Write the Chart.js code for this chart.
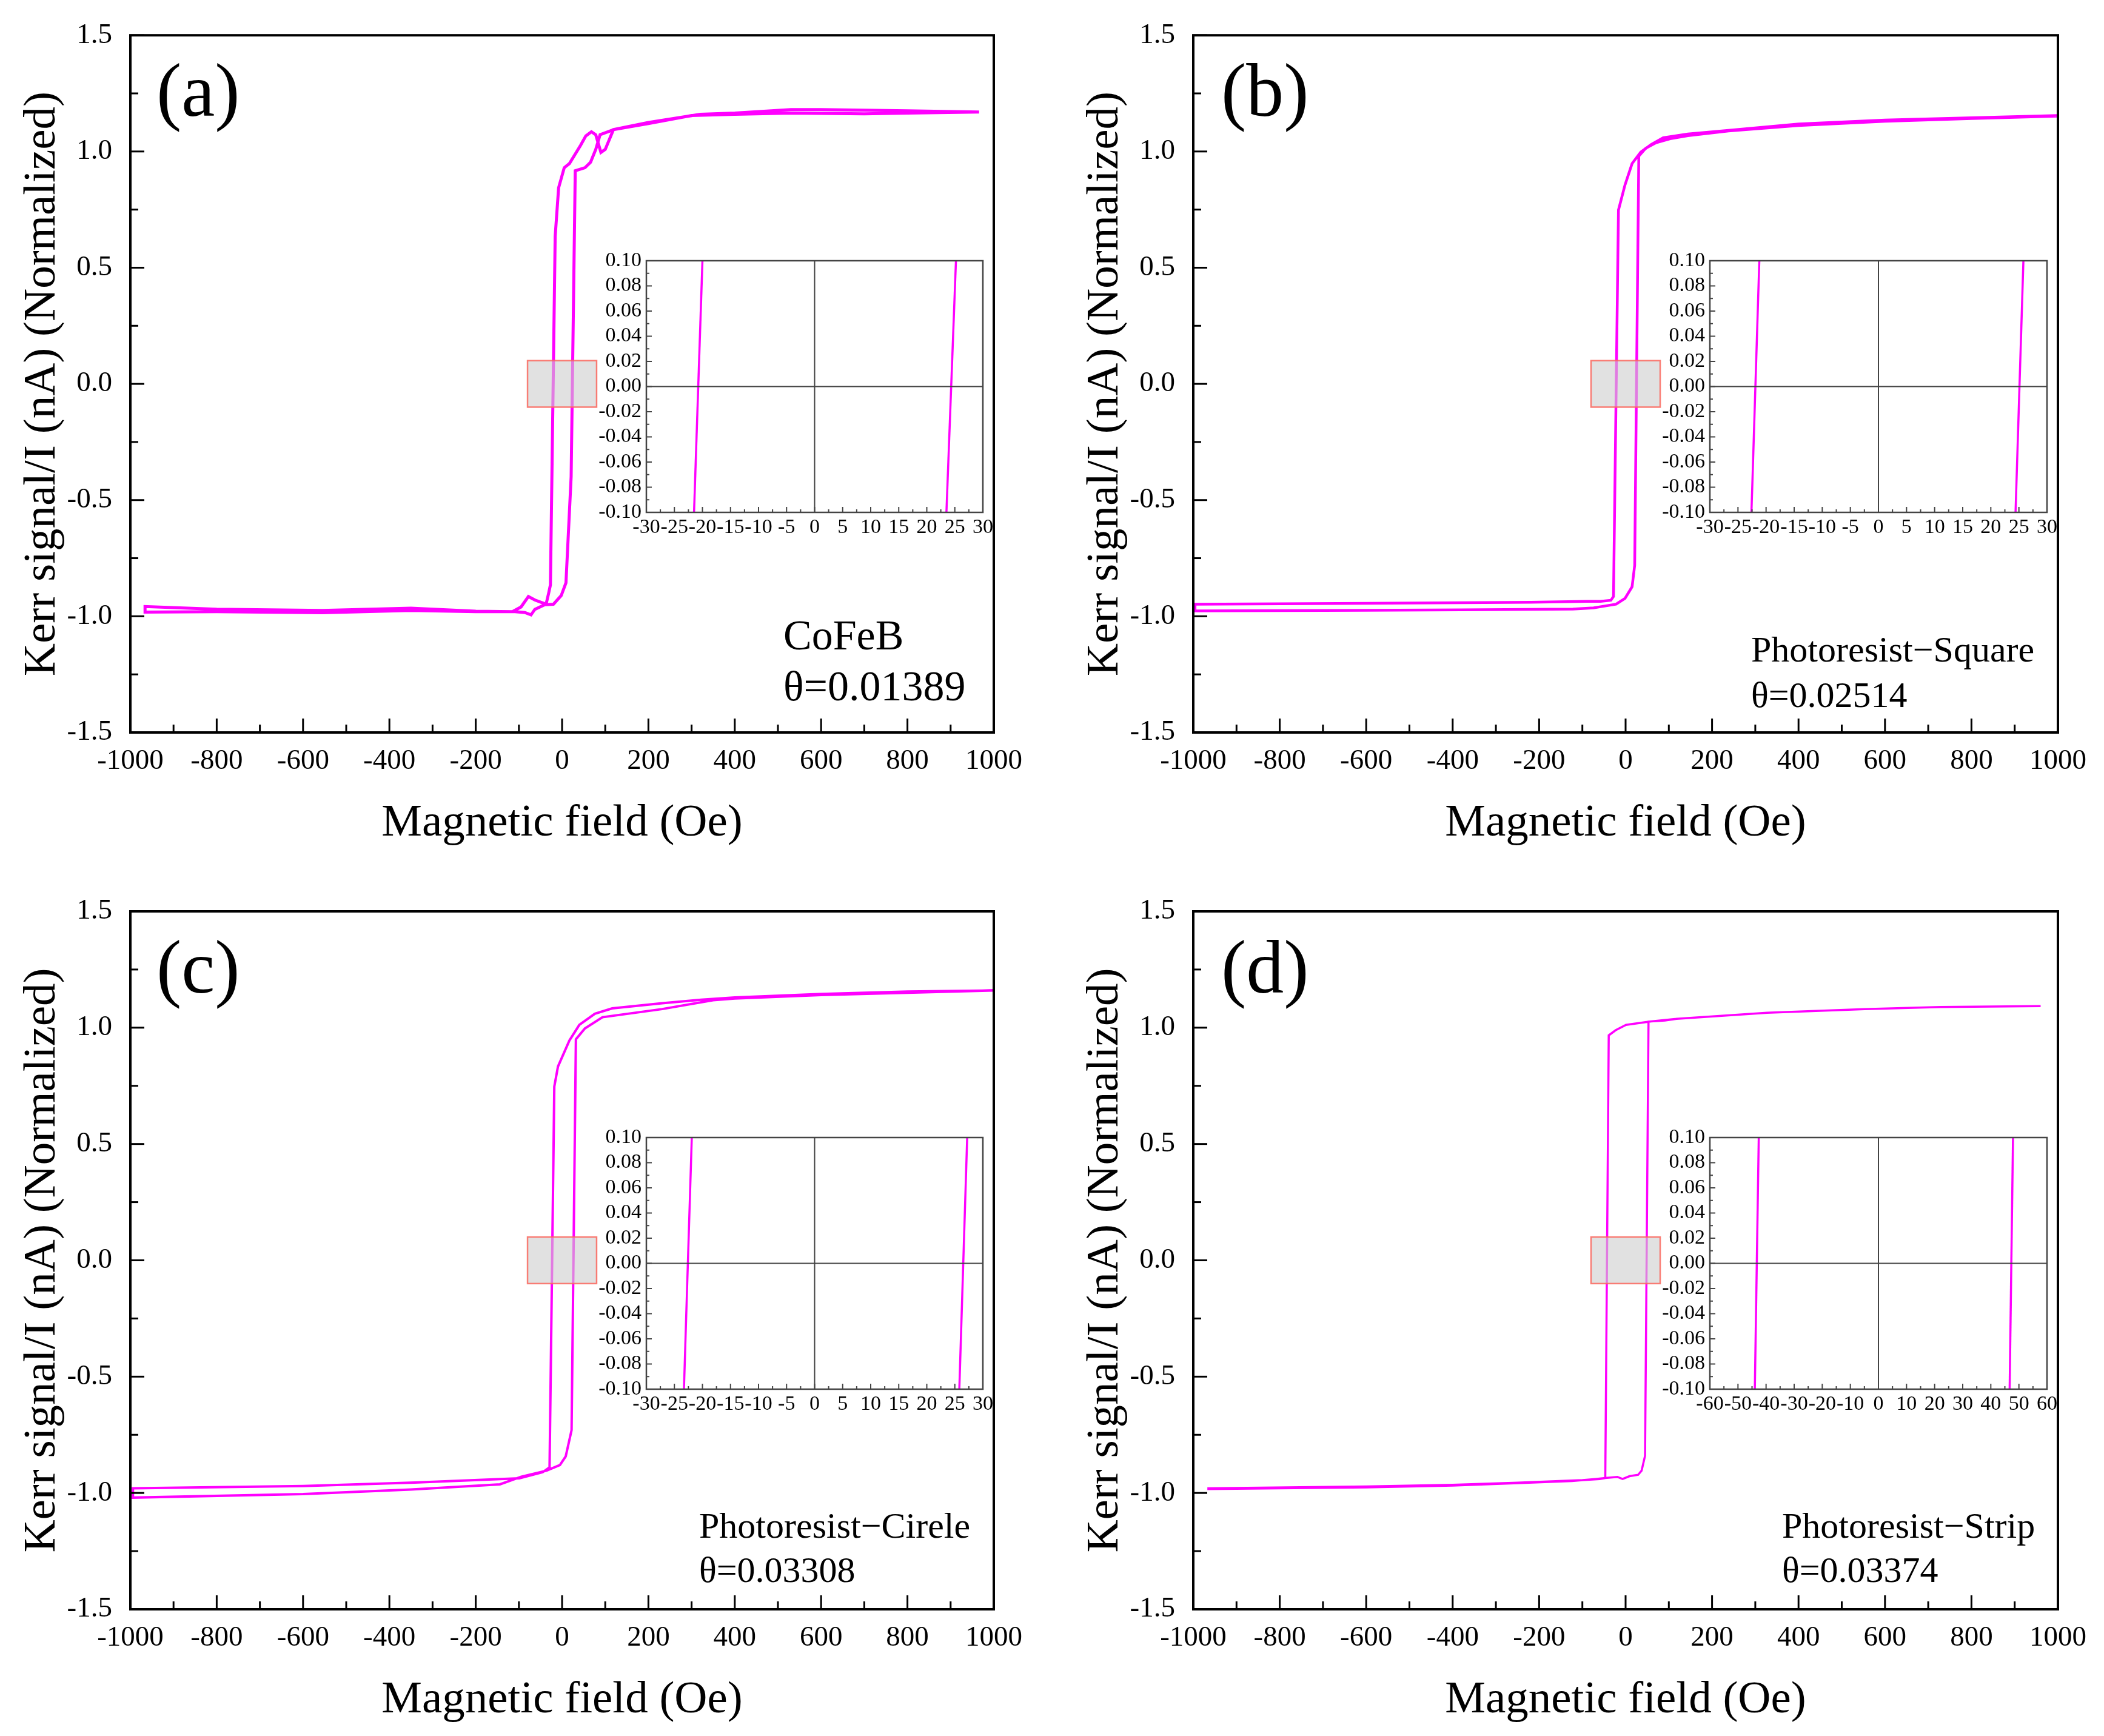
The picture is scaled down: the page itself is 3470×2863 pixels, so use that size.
<!DOCTYPE html>
<html>
<head>
<meta charset="utf-8">
<script src="https://cdn.jsdelivr.net/npm/chart.js@4.4.1/dist/chart.umd.min.js"></script>
<style>
  html, body { margin: 0; padding: 0; background: #fff; }
  #page { position: relative; width: 3470px; height: 2863px; overflow: hidden; font-family: "Liberation Serif", "Times New Roman", serif; }
  canvas { position: absolute; }
  .lbl { position: absolute; white-space: nowrap; line-height: 1; color: #000; }
</style>
</head>
<body>
<div id="page"></div>
<script>
// tick labels
const xTicksMain = [-1000, -800, -600, -400, -200, 0, 200, 400, 600, 800, 1000];
const yTicksMain = [-1.5, -1.0, -0.5, 0.0, 0.5, 1.0, 1.5];
const yTicksInset = [-0.10, -0.08, -0.06, -0.04, -0.02, 0.00, 0.02, 0.04, 0.06, 0.08, 0.10];
const xTicksInset30 = [-30, -25, -20, -15, -10, -5, 0, 5, 10, 15, 20, 25, 30];
const xTicksInset60 = [-60, -50, -40, -30, -20, -10, 0, 10, 20, 30, 40, 50, 60];

// (a) CoFeB loop: descending branch, then ascending branch
const fieldA = [966, 800, 600, 530, 400, 320, 200, 119, 100, 90, 78, 68, 55, 43, 17, 5, -8, -16, -27, -31, -37, -63, -78, -95, -115, -200, -350, -555, -800, -966,
  -966, -800, -555, -350, -200, -109, -86, -72, -63, -40, -20, -2, 9, 21, 30.5, 53, 66, 78, 88, 119, 200, 300, 400, 530, 700, 800, 966];
const kerrA = [1.170, 1.175, 1.180, 1.180, 1.165, 1.160, 1.125, 1.094, 1.009, 0.996, 1.072, 1.085, 1.067, 1.027, 0.948, 0.930, 0.844, 0.634, -0.865, -0.900, -0.948, -0.930, -0.915, -0.960, -0.980, -0.978, -0.965, -0.975, -0.970, -0.958,
  -0.982, -0.980, -0.985, -0.975, -0.980, -0.980, -0.984, -0.994, -0.970, -0.950, -0.948, -0.911, -0.856, -0.399, 0.917, 0.930, 0.954, 1.009, 1.072, 1.094, 1.120, 1.155, 1.160, 1.165, 1.162, 1.165, 1.170];

// (b) Photoresist-Square
const fieldB = [1000, 800, 600, 400, 238, 144, 87, 59, 35, 15, -1.4, -16.5, -28, -34, -58, -90, -219, -600, -996,
  -996, -600, -380, -122, -74, -58, -22, -1.4, 15, 21, 30.5, 46.5, 70.7, 103, 144, 238, 400, 600, 800, 1000];
const kerrB = [1.155, 1.145, 1.135, 1.118, 1.091, 1.075, 1.059, 1.030, 0.997, 0.948, 0.856, 0.748, -0.915, -0.931, -0.936, -0.936, -0.940, -0.944, -0.948,
  -0.977, -0.974, -0.972, -0.969, -0.964, -0.959, -0.948, -0.923, -0.873, -0.781, 0.980, 1.014, 1.038, 1.055, 1.068, 1.088, 1.112, 1.130, 1.142, 1.152];

// (c) Photoresist-Cirele
const fieldC = [1000, 800, 600, 400, 322, 232, 116, 76, 40, 17, -9.5, -18, -29, -45, -99, -341, -600, -994,
  -994, -600, -350, -144, -94.5, -36, -5, 8.4, 22, 32, 53, 93.5, 232, 350, 400, 600, 800, 1000];
const kerrC = [1.160, 1.155, 1.145, 1.130, 1.120, 1.105, 1.083, 1.060, 1.012, 0.945, 0.833, 0.747, -0.890, -0.911, -0.937, -0.955, -0.970, -0.980,
  -1.020, -1.005, -0.985, -0.963, -0.930, -0.904, -0.880, -0.843, -0.730, 0.950, 0.997, 1.045, 1.080, 1.118, 1.125, 1.140, 1.150, 1.160];

// (d) Photoresist-Strip
const fieldD = [960, 729, 553, 327, 118, 56, 1, -23, -39, -47, -60, -100, -250, -400, -600, -965,
  -965, -600, -400, -250, -124, -70, -47, -19, -7, 9, 29, 37, 45, 53, 91, 118, 327, 553, 729, 960];
const kerrD = [1.093, 1.089, 1.080, 1.064, 1.038, 1.026, 1.012, 0.989, 0.967, -0.936, -0.940, -0.945, -0.956, -0.965, -0.972, -0.980,
  -0.983, -0.976, -0.968, -0.958, -0.949, -0.940, -0.936, -0.931, -0.940, -0.928, -0.922, -0.904, -0.840, 1.026, 1.031, 1.038, 1.064, 1.080, 1.089, 1.093];

// insets: field where each switching branch crosses -0.1 and +0.1
const insetKerr = [-0.10, 0.10];
const insetLeftA = [-21.5, -20.0], insetRightA = [23.5, 25.2];
const insetLeftB = [-22.6, -21.2], insetRightB = [24.4, 25.8];
const insetLeftC = [-23.3, -21.9], insetRightC = [25.8, 27.2];
const insetLeftD = [-44.0, -42.6], insetRightD = [46.7, 47.9];

// zoomed region marked on each main plot (field min/max, kerr min/max)
const zoomBox = [-80, 80, -0.1, 0.1];

const SERIF = '"Liberation Serif", "Times New Roman", serif';
const MAGENTA = '#ff00ff';
const page = document.getElementById('page');

Chart.defaults.font.family = SERIF;
Chart.defaults.color = '#000';

const axisFrame = {
  id: 'axisFrame',
  afterDatasetsDraw(chart, args, o) {
    const { ctx, chartArea: a } = chart;
    const x = chart.scales.x, y = chart.scales.y;
    const seg = (x0, y0, x1, y1) => { ctx.beginPath(); ctx.moveTo(x0, y0); ctx.lineTo(x1, y1); ctx.stroke(); };
    ctx.save();
    if (o.box) {
      const bx0 = x.getPixelForValue(o.box[0]), bx1 = x.getPixelForValue(o.box[1]);
      const by0 = y.getPixelForValue(o.box[2]), by1 = y.getPixelForValue(o.box[3]);
      ctx.fillStyle = 'rgba(205,205,205,0.6)';
      ctx.fillRect(bx0, by1, bx1 - bx0, by0 - by1);
      ctx.strokeStyle = 'rgba(250,105,95,0.85)';
      ctx.lineWidth = 2.5;
      ctx.strokeRect(bx0, by1, bx1 - bx0, by0 - by1);
    }
    if (o.cross) {
      ctx.strokeStyle = o.color;
      ctx.lineWidth = o.crossWidth;
      const x0 = x.getPixelForValue(0), y0 = y.getPixelForValue(0);
      seg(x0, a.top, x0, a.bottom);
      seg(a.left, y0, a.right, y0);
    }
    ctx.strokeStyle = o.color;
    ctx.lineWidth = o.tickWidth;
    const isMajor = (scale, v) => scale.ticks.some(t => Math.abs(t.value - v) < 1e-9);
    let n = Math.round((x.max - x.min) / o.xMinor);
    for (let i = 0; i <= n; i++) {
      const v = x.min + i * o.xMinor;
      const px = x.getPixelForValue(v);
      seg(px, a.bottom, px, a.bottom - (isMajor(x, v) ? o.major : o.minor));
    }
    n = Math.round((y.max - y.min) / o.yMinor);
    for (let i = 0; i <= n; i++) {
      const v = y.min + i * o.yMinor;
      const py = y.getPixelForValue(v);
      seg(a.left, py, a.left + (isMajor(y, v) ? o.major : o.minor), py);
    }
    ctx.lineWidth = o.frameWidth;
    ctx.strokeRect(a.left, a.top, a.right - a.left, a.bottom - a.top);
    ctx.restore();
  }
};

function place(rect) {
  const c = document.createElement('canvas');
  c.width = rect[2];
  c.height = rect[3];
  c.style.left = rect[0] + 'px';
  c.style.top = rect[1] + 'px';
  c.style.width = rect[2] + 'px';
  c.style.height = rect[3] + 'px';
  page.appendChild(c);
  return c;
}

function label(text, left, baseline, size) {
  const d = document.createElement('div');
  d.className = 'lbl';
  d.textContent = text;
  d.style.left = left + 'px';
  d.style.top = (baseline - 0.8375 * size) + 'px';
  d.style.fontSize = size + 'px';
  page.appendChild(d);
}

function mainPanel(p) {
  const [cx, cy, cw, ch] = p.canvas;
  const [L, T, R, B] = p.plot;
  const c = place(p.canvas);
  new Chart(c, {
    type: 'scatter',
    data: {
      datasets: [{
        data: p.field.map((f, i) => ({ x: f, y: p.kerr[i] })),
        showLine: true, borderColor: MAGENTA, borderWidth: p.lineWidth,
        pointRadius: 0, tension: 0, fill: false
      }]
    },
    options: {
      responsive: false, animation: false, devicePixelRatio: 1, events: [],
      layout: { padding: { left: 0, top: T - cy, right: cx + cw - R, bottom: 0 } },
      plugins: {
        legend: { display: false }, tooltip: { enabled: false },
        axisFrame: { box: zoomBox, color: '#000', tickWidth: 3, frameWidth: 4, major: 23, minor: 13, xMinor: 100, yMinor: 0.25 }
      },
      scales: {
        x: {
          type: 'linear', min: -1000, max: 1000,
          afterBuildTicks: s => { s.ticks = xTicksMain.map(v => ({ value: v })); },
          afterFit: s => { s.height = cy + ch - B; },
          grid: { display: false, drawTicks: false }, border: { display: false },
          ticks: { autoSkip: false, maxRotation: 0, padding: 19, color: '#000', font: { family: SERIF, size: 47 }, callback: v => String(v) },
          title: { display: true, text: 'Magnetic field (Oe)', color: '#000', font: { family: SERIF, size: 75 },
                   padding: { top: 0, bottom: (cy + ch) - (B + 150) - 45 } }
        },
        y: {
          type: 'linear', min: -1.5, max: 1.5,
          afterBuildTicks: s => { s.ticks = yTicksMain.map(v => ({ value: v })); },
          afterFit: s => { s.width = L - cx; },
          grid: { display: false, drawTicks: false }, border: { display: false },
          ticks: { autoSkip: false, padding: 30, color: '#000', font: { family: SERIF, size: 47 }, callback: v => v.toFixed(1) },
          title: { display: true, text: 'Kerr signal/I (nA) (Normalized)', color: '#000', font: { family: SERIF, size: 75 },
                   padding: { top: (L - 145 - cx) - 45, bottom: 0 } }
        }
      }
    },
    plugins: [axisFrame]
  });
}

function insetPanel(p) {
  const [L, T, R, B] = p.plot;
  const cx = L - 95, cy = T - 30;
  const rect = [cx, cy, (R + 45) - cx, (B + 60) - cy];
  const c = place(rect);
  const branch = f => ({
    data: f.map((v, i) => ({ x: v, y: insetKerr[i] })),
    showLine: true, borderColor: MAGENTA, borderWidth: 3.5, pointRadius: 0, tension: 0, fill: false
  });
  const span = p.xTicks[p.xTicks.length - 1];
  new Chart(c, {
    type: 'scatter',
    data: { datasets: [branch(p.left), branch(p.right)] },
    options: {
      responsive: false, animation: false, devicePixelRatio: 1, events: [],
      layout: { padding: { left: 0, top: T - cy, right: rect[0] + rect[2] - R, bottom: 0 } },
      plugins: {
        legend: { display: false }, tooltip: { enabled: false },
        axisFrame: { cross: true, crossWidth: 2, color: '#444', tickWidth: 2, frameWidth: 2.5, major: 9, minor: 5,
                     xMinor: (p.xTicks[1] - p.xTicks[0]) / 2, yMinor: 0.01 }
      },
      scales: {
        x: {
          type: 'linear', min: -span, max: span,
          afterBuildTicks: s => { s.ticks = p.xTicks.map(v => ({ value: v })); },
          afterFit: s => { s.height = rect[1] + rect[3] - B; },
          grid: { display: false, drawTicks: false }, border: { display: false },
          ticks: { autoSkip: false, maxRotation: 0, padding: 5, color: '#000', font: { family: SERIF, size: 34 }, callback: v => String(v) }
        },
        y: {
          type: 'linear', min: -0.1, max: 0.1,
          afterBuildTicks: s => { s.ticks = yTicksInset.map(v => ({ value: v })); },
          afterFit: s => { s.width = L - cx; },
          grid: { display: false, drawTicks: false }, border: { display: false },
          ticks: { autoSkip: false, padding: 8, color: '#000', font: { family: SERIF, size: 34 }, callback: v => v.toFixed(2) }
        }
      }
    },
    plugins: [axisFrame]
  });
}

mainPanel({ canvas: [0, 0, 1735, 1431], plot: [215, 57, 1639, 1208], field: fieldA, kerr: kerrA, lineWidth: 5 });
mainPanel({ canvas: [1735, 0, 1735, 1431], plot: [1968, 57, 3394, 1208], field: fieldB, kerr: kerrB, lineWidth: 4.5 });
mainPanel({ canvas: [0, 1431, 1735, 1432], plot: [215, 1503, 1639, 2654], field: fieldC, kerr: kerrC, lineWidth: 4 });
mainPanel({ canvas: [1735, 1431, 1735, 1432], plot: [1968, 1503, 3394, 2654], field: fieldD, kerr: kerrD, lineWidth: 3.5 });

insetPanel({ plot: [1066, 430, 1621, 845], xTicks: xTicksInset30, left: insetLeftA, right: insetRightA });
insetPanel({ plot: [2820, 430, 3376, 845], xTicks: xTicksInset30, left: insetLeftB, right: insetRightB });
insetPanel({ plot: [1066, 1876, 1621, 2291], xTicks: xTicksInset30, left: insetLeftC, right: insetRightC });
insetPanel({ plot: [2820, 1876, 3376, 2291], xTicks: xTicksInset60, left: insetLeftD, right: insetRightD });

label('(a)', 258, 192, 124);
label('(b)', 2014, 192, 124);
label('(c)', 258, 1638, 124);
label('(d)', 2014, 1638, 124);

label('CoFeB', 1292, 1072, 70);
label('θ=0.01389', 1292, 1156, 70);
label('Photoresist−Square', 2888, 1091, 60);
label('θ=0.02514', 2888, 1166, 60);
label('Photoresist−Cirele', 1153, 2536, 60);
label('θ=0.03308', 1153, 2609, 60);
label('Photoresist−Strip', 2939, 2536, 60);
label('θ=0.03374', 2939, 2609, 60);
</script>
</body>
</html>
